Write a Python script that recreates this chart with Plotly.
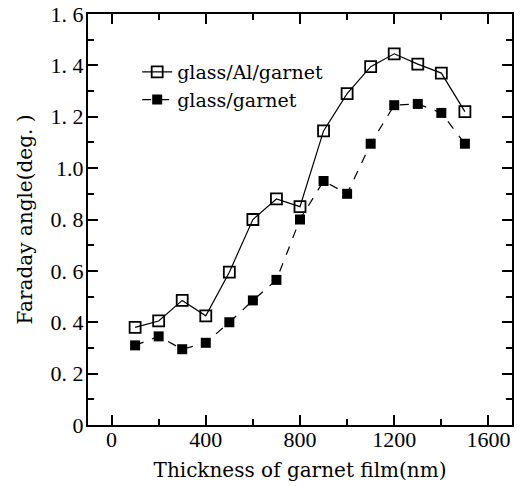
import plotly.graph_objects as go

thickness = [100, 200, 300, 400, 500, 600, 700, 800, 900, 1000, 1100, 1200, 1300, 1400, 1500]
al_garnet = [0.38, 0.405, 0.485, 0.425, 0.595, 0.80, 0.88, 0.85, 1.145, 1.29, 1.395, 1.445, 1.405, 1.37, 1.22]
garnet = [0.31, 0.345, 0.295, 0.32, 0.40, 0.485, 0.565, 0.80, 0.95, 0.90, 1.095, 1.245, 1.25, 1.215, 1.095]

y_tickvals = [0, 0.2, 0.4, 0.6, 0.8, 1.0, 1.2, 1.4, 1.6]
y_ticktext = ["0", "0. 2", "0. 4", "0. 6", "0. 8", "1.0", "1. 2", "1. 4", "1. 6"]
x_tickvals = [0, 400, 800, 1200, 1600]
x_ticktext = ["0", "400", "800", "1200", "1600"]

serif_tick = "Liberation Serif, Times New Roman, serif"
serif_text = "DejaVu Serif, serif"

fig = go.Figure()
fig.add_trace(go.Scatter(
    x=thickness, y=al_garnet, mode="lines+markers", name="glass/Al/garnet",
    line=dict(color="black", width=1.2),
    marker=dict(symbol="square-open", size=11, color="black", line=dict(width=1.8)),
))
fig.add_trace(go.Scatter(
    x=thickness, y=garnet, mode="lines+markers", name="glass/garnet",
    line=dict(color="black", width=1.2, dash="dash"),
    marker=dict(symbol="square", size=10, color="black"),
))

fig.update_layout(
    width=527, height=486,
    margin=dict(l=88, r=15, t=14, b=61),
    paper_bgcolor="white", plot_bgcolor="white",
    font=dict(family=serif_text, color="black", size=18),
    showlegend=True,
    legend=dict(x=0.116, y=0.905, xanchor="left", yanchor="top",
                bgcolor="rgba(0,0,0,0)", font=dict(size=19, family=serif_text),
                itemwidth=30, tracegroupgap=0),
)
fig.update_xaxes(
    range=[-100, 1700], tickmode="array", tickvals=x_tickvals, ticktext=x_ticktext,
    ticks="inside", ticklen=10, tickwidth=2, tickcolor="black",
    minor=dict(dtick=200, tick0=0, ticks="inside", ticklen=6, tickwidth=2, tickcolor="black"),
    showline=True, linewidth=2, linecolor="black", mirror="ticks",
    showgrid=False, zeroline=False, automargin=False, ticklabeloverflow="allow",
    tickfont=dict(size=22, family=serif_tick), ticklabelstandoff=-6,
    title=dict(text="Thickness of garnet film(nm)", font=dict(size=20, family=serif_text), standoff=12),
)
fig.update_yaxes(
    range=[0, 1.6], tickmode="array", tickvals=y_tickvals, ticktext=y_ticktext,
    ticks="inside", ticklen=10, tickwidth=2, tickcolor="black",
    minor=dict(dtick=0.1, tick0=0, ticks="inside", ticklen=6, tickwidth=2, tickcolor="black"),
    showline=True, linewidth=2, linecolor="black", mirror="ticks",
    showgrid=False, zeroline=False, automargin=False, ticklabeloverflow="allow",
    tickfont=dict(size=22, family=serif_tick), ticklabelstandoff=-2,
    title=dict(text="Faraday angle(deg. )", font=dict(size=20, family=serif_text), standoff=13),
)

fig.write_html("out.html", config={"displayModeBar": False},
               post_script="document.body.style.margin='0';")
